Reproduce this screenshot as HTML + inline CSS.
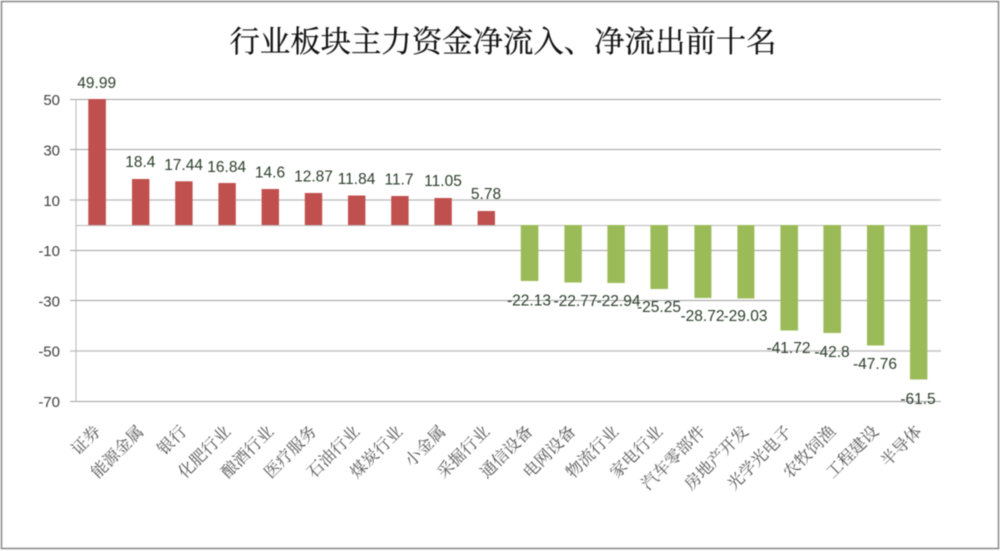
<!DOCTYPE html>
<html lang="zh">
<head>
<meta charset="utf-8">
<style>
html,body{margin:0;padding:0;background:#fff;width:1000px;height:551px;overflow:hidden}
svg{display:block;filter:blur(.4px)}
.t{font-family:"Liberation Serif","Noto Serif CJK SC",serif;stroke:#111;stroke-width:.25px}
.a{font-family:"Liberation Sans",sans-serif;font-size:15px;fill:#404040;text-anchor:end}
.d{font-family:"Liberation Sans",sans-serif;font-size:15.5px;fill:#2c3e2c;text-anchor:middle}
.c{font-family:"Liberation Serif","Noto Serif CJK SC",serif;font-size:16.5px;fill:#555;text-anchor:end}
</style>
</head>
<body>
<svg width="1000" height="551" viewBox="0 0 1000 551" xmlns="http://www.w3.org/2000/svg">
<rect x="0" y="0" width="1000" height="551" fill="#fff"/>
<rect x="1.5" y="1.5" width="997" height="547" fill="#fff" stroke="#8e8e8e" stroke-width="1.6"/>
<text class="t" x="503" y="52" font-size="30.4" fill="#111" text-anchor="middle">行业板块主力资金净流入、净流出前十名</text>

<g stroke="#a0a0a0" stroke-width="1">
<line x1="70" x2="941" y1="99.5" y2="99.5"/>
<line x1="70" x2="941" y1="149.5" y2="149.5"/>
<line x1="70" x2="941" y1="200" y2="200" stroke="#c4c4c4" stroke-width="1.5"/>
<line x1="76" x2="941" y1="225.5" y2="225.5" stroke="#b8b8b8"/>
<line x1="70" x2="941" y1="250.5" y2="250.5"/>
<line x1="70" x2="941" y1="300.5" y2="300.5"/>
<line x1="70" x2="941" y1="351" y2="351" stroke="#c4c4c4" stroke-width="1.5"/>
<line x1="70" x2="941" y1="401.5" y2="401.5"/>
<line x1="76" x2="76" y1="99" y2="402" stroke="#b8b8b8"/>
</g>

<g fill="#c0504d">
<rect x="88.3" y="99" width="17.6" height="126"/>
<rect x="132" y="179" width="17.4" height="46"/>
<rect x="175.2" y="181.3" width="17.4" height="43.7"/>
<rect x="218.4" y="183" width="17.4" height="42"/>
<rect x="261.6" y="189" width="17.4" height="36"/>
<rect x="304.8" y="193" width="17.4" height="32"/>
<rect x="348" y="195.5" width="17.4" height="29.5"/>
<rect x="391.2" y="196" width="17.4" height="29"/>
<rect x="434.4" y="198" width="17.4" height="27"/>
<rect x="477.6" y="211" width="17.4" height="14"/>
</g>
<g fill="#9bbb59">
<rect x="520.8" y="225" width="17.6" height="56"/>
<rect x="564.4" y="225" width="17.4" height="57.5"/>
<rect x="607.4" y="225" width="17.4" height="58"/>
<rect x="650.4" y="225" width="17.6" height="64"/>
<rect x="694.4" y="225" width="17" height="73"/>
<rect x="737.4" y="225" width="17" height="73.5"/>
<rect x="780.4" y="225" width="17.6" height="105.5"/>
<rect x="823.4" y="225" width="17.6" height="108"/>
<rect x="867" y="225" width="17.2" height="120.5"/>
<rect x="910" y="225" width="17.4" height="154.5"/>
</g>

<g class="ax">
<text class="a" x="60" y="105">50</text>
<text class="a" x="60" y="155.5">30</text>
<text class="a" x="60" y="206">10</text>
<text class="a" x="60" y="256">-10</text>
<text class="a" x="60" y="306.5">-30</text>
<text class="a" x="60" y="356.5">-50</text>
<text class="a" x="60" y="407">-70</text>
</g>

<g>
<text class="d" x="96.7" y="88">49.99</text>
<text class="d" x="140.3" y="167">18.4</text>
<text class="d" x="183.6" y="170">17.44</text>
<text class="d" x="226.7" y="172">16.84</text>
<text class="d" x="270" y="177.5">14.6</text>
<text class="d" x="313.5" y="181.5">12.87</text>
<text class="d" x="356.5" y="184">11.84</text>
<text class="d" x="399" y="184.5">11.7</text>
<text class="d" x="443" y="186">11.05</text>
<text class="d" x="486" y="199">5.78</text>
<text class="d" x="529" y="305.5">-22.13</text>
<text class="d" x="575.5" y="306">-22.77</text>
<text class="d" x="618.5" y="306">-22.94</text>
<text class="d" x="659" y="312">-25.25</text>
<text class="d" x="702.5" y="321">-28.72</text>
<text class="d" x="745.5" y="321">-29.03</text>
<text class="d" x="788.5" y="353">-41.72</text>
<text class="d" x="832" y="357">-42.8</text>
<text class="d" x="875" y="369">-47.76</text>
<text class="d" x="918" y="404">-61.5</text>
</g>

<g>
<text class="c" transform="translate(101.5,432.5) rotate(-45)">证券</text>
<text class="c" transform="translate(144.5,432.5) rotate(-45)">能源金属</text>
<text class="c" transform="translate(187.5,432.5) rotate(-45)">银行</text>
<text class="c" transform="translate(231.5,432.5) rotate(-45)">化肥行业</text>
<text class="c" transform="translate(274.5,432.5) rotate(-45)">酿酒行业</text>
<text class="c" transform="translate(317.5,432.5) rotate(-45)">医疗服务</text>
<text class="c" transform="translate(360.5,432.5) rotate(-45)">石油行业</text>
<text class="c" transform="translate(403.5,432.5) rotate(-45)">煤炭行业</text>
<text class="c" transform="translate(446.5,432.5) rotate(-45)">小金属</text>
<text class="c" transform="translate(490.5,432.5) rotate(-45)">采掘行业</text>
<text class="c" transform="translate(533.5,432.5) rotate(-45)">通信设备</text>
<text class="c" transform="translate(576.5,432.5) rotate(-45)">电网设备</text>
<text class="c" transform="translate(619.5,432.5) rotate(-45)">物流行业</text>
<text class="c" transform="translate(663.5,432.5) rotate(-45)">家电行业</text>
<text class="c" transform="translate(706.5,432.5) rotate(-45)">汽车零部件</text>
<text class="c" transform="translate(749.5,432.5) rotate(-45)">房地产开发</text>
<text class="c" transform="translate(792.5,432.5) rotate(-45)">光学光电子</text>
<text class="c" transform="translate(836.5,432.5) rotate(-45)">农牧饲渔</text>
<text class="c" transform="translate(879.5,432.5) rotate(-45)">工程建设</text>
<text class="c" transform="translate(922.5,432.5) rotate(-45)">半导体</text>
</g>
</svg>
</body>
</html>
